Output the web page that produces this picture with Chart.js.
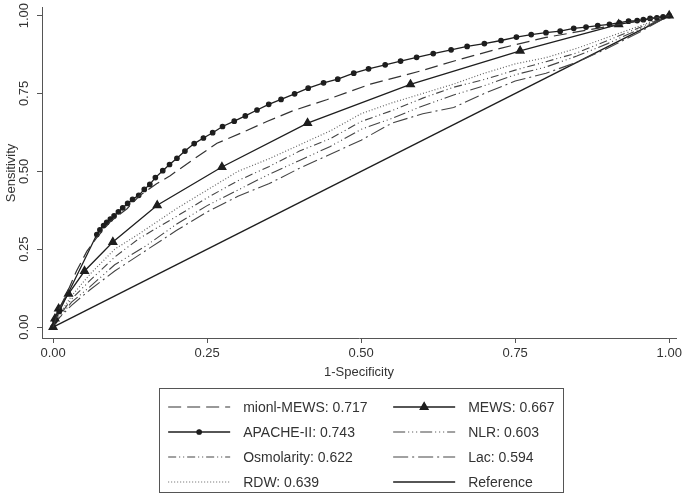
<!DOCTYPE html>
<html>
<head>
<meta charset="utf-8">
<script src="https://cdn.jsdelivr.net/npm/chart.js@4.4.0/dist/chart.umd.min.js"></script>
<style>
  body { margin: 0; background: #fff; }
  #wrap { width: 685px; height: 497px; }
</style>
</head>
<body>
<div id="wrap"><canvas id="roc"></canvas></div>
<script>
// ROC curves, x = 1-Specificity, y = Sensitivity
const tickVals = [0, 0.25, 0.5, 0.75, 1];

const apacheX = [0, 0.003, 0.01, 0.071, 0.076, 0.082, 0.087, 0.093, 0.099, 0.106, 0.113, 0.121, 0.129, 0.139, 0.148, 0.157, 0.166, 0.178, 0.189, 0.201, 0.214, 0.229, 0.244, 0.259, 0.275, 0.294, 0.312, 0.331, 0.350, 0.370, 0.392, 0.414, 0.439, 0.462, 0.488, 0.512, 0.539, 0.564, 0.590, 0.617, 0.646, 0.672, 0.700, 0.727, 0.752, 0.776, 0.800, 0.823, 0.845, 0.865, 0.884, 0.903, 0.919, 0.934, 0.948, 0.958, 0.969, 0.980, 0.990, 1];
const apacheY = [0, 0.02, 0.05, 0.297, 0.312, 0.326, 0.336, 0.347, 0.357, 0.370, 0.383, 0.397, 0.410, 0.423, 0.442, 0.458, 0.480, 0.502, 0.522, 0.542, 0.565, 0.589, 0.607, 0.624, 0.644, 0.661, 0.678, 0.697, 0.715, 0.731, 0.749, 0.767, 0.784, 0.796, 0.815, 0.829, 0.842, 0.854, 0.866, 0.878, 0.890, 0.901, 0.910, 0.920, 0.931, 0.939, 0.945, 0.950, 0.959, 0.963, 0.968, 0.972, 0.977, 0.982, 0.984, 0.987, 0.991, 0.993, 0.996, 1];

const mewsX = [0, 0.003, 0.009, 0.025, 0.051, 0.097, 0.169, 0.274, 0.413, 0.580, 0.758, 0.918, 1];
const mewsY = [0, 0.027, 0.059, 0.107, 0.180, 0.273, 0.391, 0.514, 0.655, 0.779, 0.887, 0.972, 1];

const mionlX = [0, 0.01, 0.022, 0.038, 0.055, 0.072, 0.093, 0.12, 0.141, 0.168, 0.19, 0.228, 0.266, 0.304, 0.347, 0.39, 0.444, 0.515, 0.596, 0.661, 0.726, 0.8, 0.9, 1];
const mionlY = [0, 0.06, 0.107, 0.18, 0.244, 0.29, 0.339, 0.38, 0.423, 0.46, 0.486, 0.539, 0.59, 0.622, 0.66, 0.695, 0.73, 0.78, 0.822, 0.86, 0.895, 0.93, 0.965, 1];

const rdwX = [0, 0.01, 0.03, 0.06, 0.1, 0.14, 0.2, 0.25, 0.3, 0.35, 0.4, 0.45, 0.5, 0.55, 0.6, 0.65, 0.7, 0.75, 0.8, 0.85, 0.9, 0.95, 1];
const rdwY = [0, 0.04, 0.10, 0.17, 0.25, 0.30, 0.38, 0.44, 0.50, 0.54, 0.585, 0.63, 0.685, 0.72, 0.75, 0.78, 0.815, 0.845, 0.865, 0.895, 0.93, 0.965, 1];

const osmoX = [0, 0.01, 0.03, 0.06, 0.1, 0.14, 0.2, 0.25, 0.3, 0.35, 0.4, 0.45, 0.5, 0.55, 0.6, 0.65, 0.7, 0.75, 0.8, 0.85, 0.9, 0.95, 1];
const osmoY = [0, 0.035, 0.09, 0.15, 0.225, 0.285, 0.355, 0.415, 0.47, 0.515, 0.565, 0.605, 0.66, 0.695, 0.735, 0.77, 0.795, 0.825, 0.852, 0.88, 0.92, 0.96, 1];

const nlrX = [0, 0.01, 0.03, 0.06, 0.1, 0.15, 0.2, 0.25, 0.3, 0.35, 0.4, 0.45, 0.5, 0.55, 0.6, 0.65, 0.7, 0.75, 0.8, 0.85, 0.9, 0.95, 1];
const nlrY = [0, 0.03, 0.08, 0.13, 0.20, 0.26, 0.33, 0.39, 0.44, 0.49, 0.535, 0.58, 0.635, 0.67, 0.71, 0.745, 0.775, 0.81, 0.835, 0.87, 0.91, 0.955, 1];

const lacX = [0, 0.01, 0.03, 0.06, 0.1, 0.15, 0.2, 0.25, 0.3, 0.35, 0.4, 0.45, 0.5, 0.55, 0.6, 0.65, 0.7, 0.75, 0.8, 0.85, 0.9, 0.95, 1];
const lacY = [0, 0.03, 0.07, 0.12, 0.18, 0.245, 0.31, 0.37, 0.42, 0.46, 0.51, 0.555, 0.6, 0.655, 0.685, 0.705, 0.75, 0.79, 0.815, 0.85, 0.895, 0.945, 1];

const refX = [0, 1];
const refY = [0, 1];

const labels = ['mionl-MEWS: 0.717', 'MEWS: 0.667', 'APACHE-II: 0.743', 'NLR: 0.603',
                'Osmolarity: 0.622', 'Lac: 0.594', 'RDW: 0.639', 'Reference'];

const pts = (xs, ys) => xs.map((x, i) => ({ x: x, y: ys[i] }));
const FONT = '"Liberation Sans", Arial, sans-serif';
const INK = '#1e1e1e';
const TXT = '#333';

function line(label, xs, ys, dash, width, extra) {
  return Object.assign({
    label: label,
    data: pts(xs, ys),
    borderColor: INK,
    backgroundColor: INK,
    borderWidth: width,
    borderDash: dash,
    pointRadius: 0,
    tension: 0,
    fill: false,
    clip: false
  }, extra || {});
}

const datasets = [
  line(labels[0], mionlX, mionlY, [13, 6], 1.2, { borderColor: '#333' }),
  line(labels[1], mewsX, mewsY, [], 1.3, { pointStyle: 'triangle', pointRadius: 4.5 }),
  line(labels[2], apacheX, apacheY, [], 1.3, { pointStyle: 'circle', pointRadius: 2.2 }),
  line(labels[3], nlrX, nlrY, [12, 3, 1, 3, 1, 3, 1, 3], 1.1, { borderColor: '#444' }),
  line(labels[4], osmoX, osmoY, [8, 3, 1, 3, 1, 3], 1.1, { borderColor: '#444' }),
  line(labels[5], lacX, lacY, [15, 4, 2, 4], 1.1, { borderColor: '#444' }),
  line(labels[6], rdwX, rdwY, [1, 2], 1.2, { borderColor: '#666' }),
  line(labels[7], refX, refY, [], 1.4)
];

// legend drawn inside a box below the plot, two columns
const boxLegend = {
  id: 'boxLegend',
  afterDraw(chart) {
    const ctx = chart.ctx;
    const cx = chart.scales.x.getPixelForValue(0.5);
    const top = chart.chartArea.bottom + 50;
    ctx.save();
    ctx.strokeStyle = '#555';
    ctx.lineWidth = 1;
    ctx.strokeRect(Math.round(cx - 202) + 0.5, top + 0.5, 404, 104);
    ctx.font = '14px ' + FONT;
    ctx.textBaseline = 'middle';
    ctx.textAlign = 'left';
    chart.data.datasets.forEach((ds, i) => {
      const col = i % 2, row = Math.floor(i / 2);
      const y = top + 19 + row * 25;
      const x0 = col ? cx + 32 : cx - 193;
      const x1 = x0 + 62;
      ctx.strokeStyle = ds.borderColor;
      ctx.lineWidth = ds.borderWidth;
      ctx.setLineDash(ds.borderDash);
      ctx.beginPath(); ctx.moveTo(x0, y); ctx.lineTo(x1, y); ctx.stroke();
      ctx.setLineDash([]);
      if (ds.pointRadius > 0) {
        Chart.helpers.drawPoint(ctx, { pointStyle: ds.pointStyle, radius: ds.pointRadius, borderWidth: 1 }, (x0 + x1) / 2, y);
        ctx.fillStyle = INK; ctx.fill();
      }
      ctx.fillStyle = TXT;
      ctx.fillText(ds.label, x1 + 13, y + 1);
    });
    ctx.restore();
  }
};

const axisCommon = {
  type: 'linear',
  grid: { display: true, drawOnChartArea: false, drawTicks: true, tickLength: 5, color: '#555' },
  border: { display: true, color: '#555', width: 1 },
  afterBuildTicks: s => { s.ticks = tickVals.map(v => ({ value: v })); }
};

new Chart(document.getElementById('roc'), {
  type: 'line',
  data: { datasets: datasets },
  options: {
    responsive: true,
    maintainAspectRatio: false,
    animation: false,
    layout: { padding: { top: 3, right: 9, bottom: 114, left: 0 } },
    plugins: { legend: { display: false }, tooltip: { enabled: false } },
    elements: { point: { borderWidth: 1 } },
    scales: {
      x: Object.assign({}, axisCommon, {
        min: -0.018, max: 1.011,
        ticks: { color: TXT, font: { family: FONT, size: 13 }, padding: 3, maxRotation: 0,
                 callback: v => v.toFixed(2) },
        title: { display: true, text: '1-Specificity', color: TXT, font: { family: FONT, size: 13 }, padding: { top: 0, bottom: 3 } },
        afterFit: s => { s.height = 45; }
      }),
      y: Object.assign({}, axisCommon, {
        min: -0.035, max: 1.025,
        ticks: { color: TXT, font: { family: FONT, size: 13 }, padding: 0, minRotation: 90, maxRotation: 90,
                 crossAlign: 'center', callback: v => v.toFixed(2) },
        title: { display: true, text: 'Sensitivity', color: TXT, font: { family: FONT, size: 13 }, padding: { left: 3, right: 0 } },
        afterFit: s => { s.width = 42; }
      })
    }
  },
  plugins: [boxLegend]
});
</script>
</body>
</html>
